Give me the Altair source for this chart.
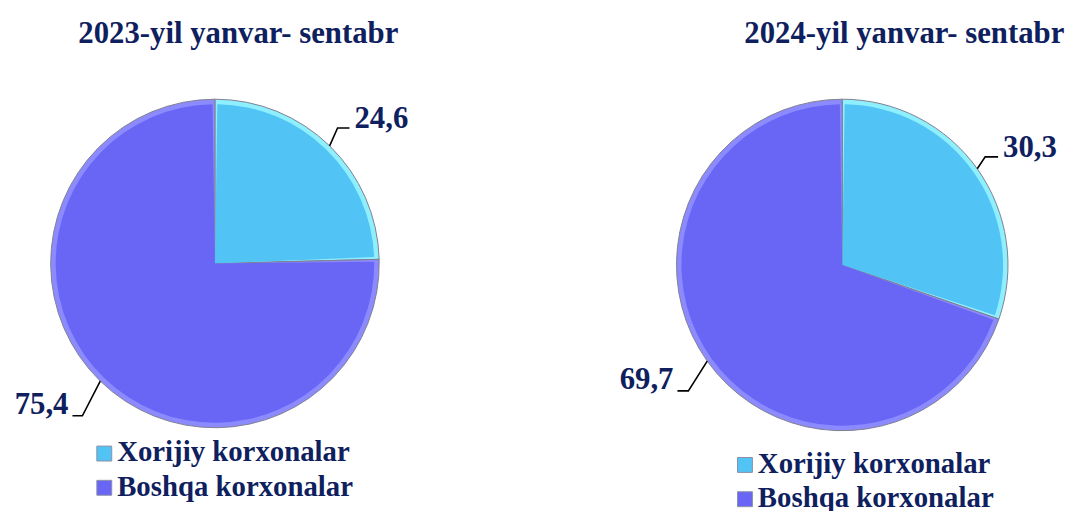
import math
import altair as alt
import pandas as pd

# ---------------- data ----------------
titles = ["2023-yil yanvar- sentabr", "2024-yil yanvar- sentabr"]
categories = ["Xorijiy korxonalar", "Boshqa korxonalar"]
values_2023 = [24.6, 75.4]
values_2024 = [30.3, 69.7]

# ---------------- style / layout ----------------
NAVY = "#0E205E"
FONT = "Liberation Serif"
MAIN = ["#52C3F5", "#6A66F5"]
LIGHT = ["#8EEFFF", "#8C8AFF"]
STROKE = "#80808F"
OFF = 8  # page margin
W, H = 1074, 503

layout = [
    {"cx": 216.5, "cy": 263.5, "r": 165.5, "tx": 240, "ty": 41,
     "lx": 105, "ly": [455, 489.5],
     "leaders": [[(8, -18), (20, -18)], [(-18, 35), (-28, 35)]]},
    {"cx": 848.5, "cy": 265, "r": 167, "tx": 911, "ty": 41,
     "lx": 750.5, "ly": [466.5, 501],
     "leaders": [[(8, -12), (21, -12)], [(-19, 30), (-30, 30)]]},
]

series = [values_2023, values_2024]

layers = []
lead_rows, lab_rows, title_rows, leg_rows = [], [], [], []

for p, (vals, lay) in enumerate(zip(series, layout)):
    cx, cy, r = lay["cx"] - OFF, lay["cy"] - OFF, lay["r"]
    df = pd.DataFrame({
        "cat": categories, "value": vals, "k": list(range(len(vals))),
        "main": MAIN, "light": LIGHT,
    })
    enc = dict(
        theta=alt.Theta("value:Q", stack=True),
        order=alt.Order("k:Q"),
        x=alt.value(cx), y=alt.value(cy),
    )
    # soft shadow
    for extra in [7, 5, 3]:
        layers.append(
            alt.Chart(pd.DataFrame({"cat": ["s"]})).mark_circle(
                size=math.pi * (r + extra) ** 2, color="#8a8a8a", opacity=0.10
            ).encode(x=alt.value(cx), y=alt.value(cy + 6))
        )
    layers.append(
        alt.Chart(df).mark_arc(radius=r, stroke=STROKE, strokeWidth=1).encode(
            color=alt.Color("light:N", scale=None), **enc)
    )
    layers.append(
        alt.Chart(df).mark_arc(radius=r - 5, padAngle=0.03).encode(
            color=alt.Color("main:N", scale=None), **enc)
    )
    total = sum(vals)
    cum = 0.0
    for i, v in enumerate(vals):
        a = 2 * math.pi * (cum + v / 2) / total
        cum += v
        ex, ey = cx + r * math.sin(a), cy - r * math.cos(a)
        (d1x, d1y), (d2x, d2y) = lay["leaders"][i]
        pts = [(ex, ey), (ex + d1x, ey + d1y), (ex + d2x, ey + d2y)]
        lid = f"{p}-{i}"
        for q, (px, py) in enumerate(pts):
            lead_rows.append({"lid": lid, "pt": q, "x": px, "y": py})
        right = d2x > 0
        endx, endy = pts[-1]
        lab_rows.append({
            "text": f"{v:.1f}".replace(".", ","),
            "x": endx + 5 if right else endx - 4,
            "y": endy if right else endy - 2,
            "side": "right" if right else "left",
        })
        leg_rows.append({"cat": categories[i], "color": MAIN[i],
                         "x": lay["lx"] - OFF, "y": lay["ly"][i] - OFF,
                         "tx": lay["lx"] + 13 - OFF, "ty": lay["ly"][i] + 8 - OFF})
    title_rows.append({"text": titles[p], "x": lay["tx"] - OFF, "y": lay["ty"] - OFF})

lead_df = pd.DataFrame(lead_rows)
lab_df = pd.DataFrame(lab_rows)
title_df = pd.DataFrame(title_rows)
leg_df = pd.DataFrame(leg_rows)

X = lambda f: alt.X(f, scale=None, axis=None)
Y = lambda f: alt.Y(f, scale=None, axis=None)

leaders = alt.Chart(lead_df).mark_line(color="black", strokeWidth=1.6).encode(
    x=X("x:Q"), y=Y("y:Q"), detail="lid:N", order="pt:Q")

lab_right = alt.Chart(lab_df[lab_df.side == "right"]).mark_text(
    font=FONT, fontSize=31, fontWeight="bold", color=NAVY, align="left",
    baseline="alphabetic").encode(x=X("x:Q"), y=Y("y:Q"), text="text:N")
lab_left = alt.Chart(lab_df[lab_df.side == "left"]).mark_text(
    font=FONT, fontSize=31, fontWeight="bold", color=NAVY, align="right",
    baseline="alphabetic").encode(x=X("x:Q"), y=Y("y:Q"), text="text:N")

title_marks = alt.Chart(title_df).mark_text(
    font=FONT, fontSize=31, fontWeight="bold", color=NAVY, align="center",
    baseline="alphabetic").encode(x=X("x:Q"), y=Y("y:Q"), text="text:N")

leg_sq = alt.Chart(leg_df).mark_square(size=225, opacity=1, stroke="#8A8FA8",
                                        strokeWidth=1).encode(
    x=X("x:Q"), y=Y("y:Q"), color=alt.Color("color:N", scale=None))
leg_txt = alt.Chart(leg_df).mark_text(
    font=FONT, fontSize=29, fontWeight="bold", color=NAVY, align="left",
    baseline="alphabetic").encode(x=X("tx:Q"), y=Y("ty:Q"), text="cat:N")

chart = alt.layer(*layers, leaders, lab_right, lab_left, title_marks, leg_sq, leg_txt).properties(
    width=W, height=H, padding=0, autosize=alt.AutoSizeParams(type="none"),
    background="white",
).configure_view(strokeWidth=0)

chart.save("out.html", embed_options={"renderer": "svg", "actions": False})
